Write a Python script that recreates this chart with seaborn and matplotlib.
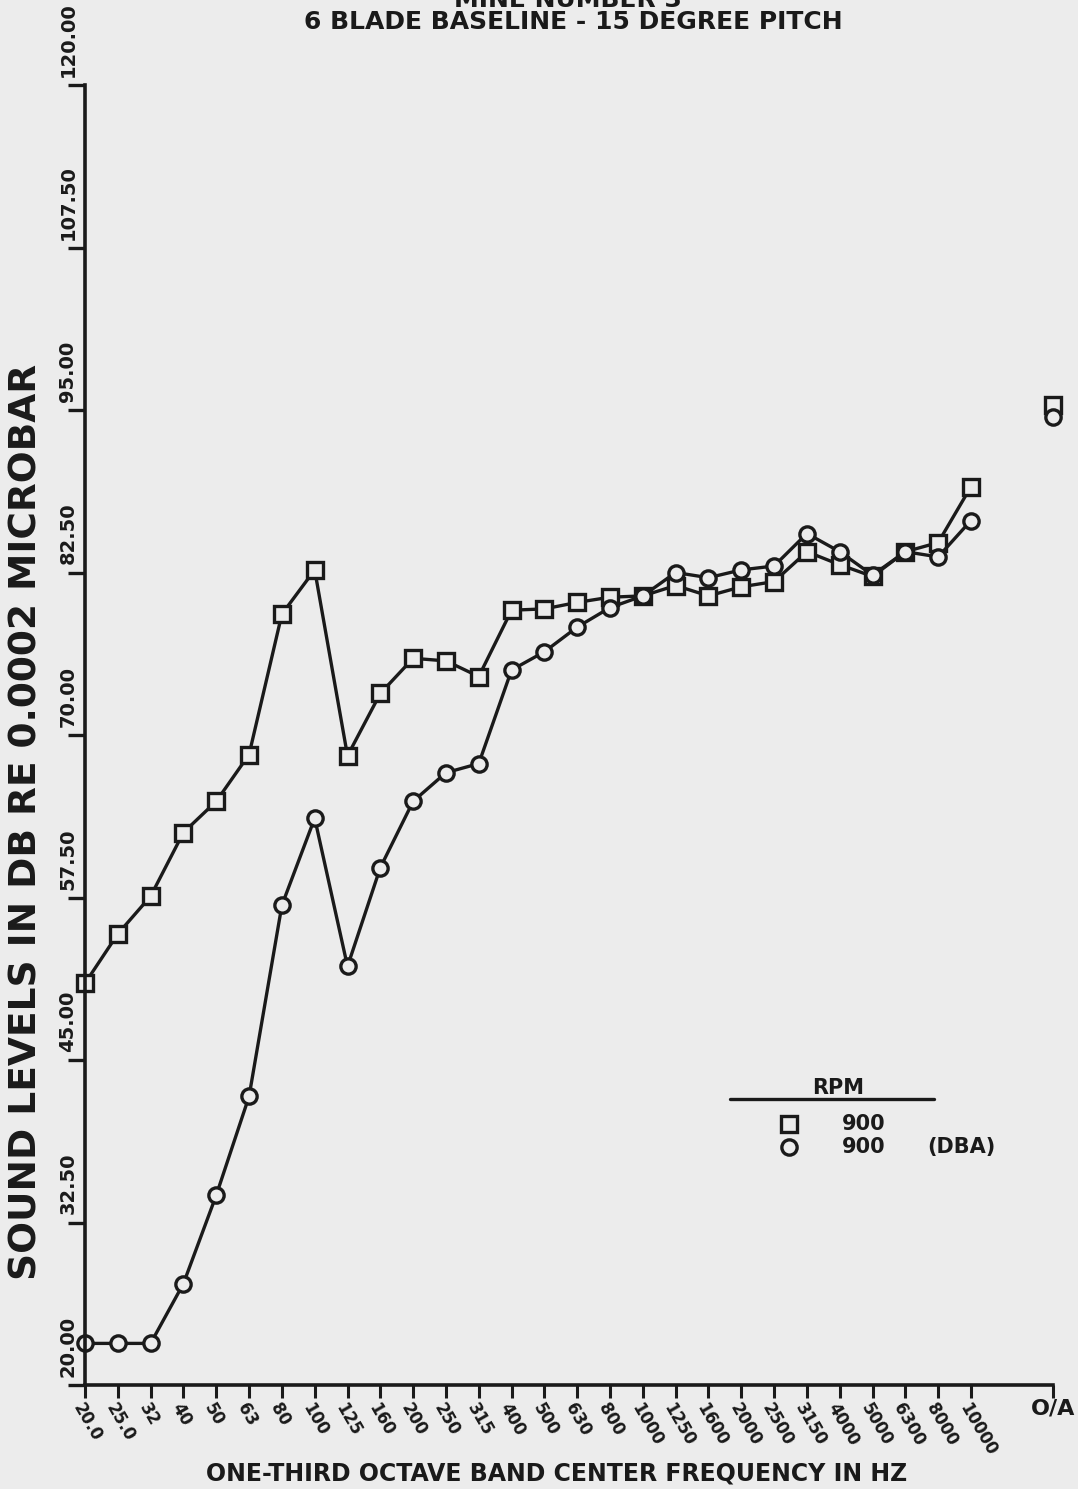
"""
Recreation of the one-third octave band plot: 6 blade baseline, 15 degree pitch.
"""
import numpy as np
import pandas as pd
import matplotlib
matplotlib.use("Agg")
import matplotlib.pyplot as plt
import seaborn as sns
from matplotlib.lines import Line2D

sns.set_theme(style="white")
plt.rcParams['font.family'] = ['DejaVu Sans']
plt.rcParams['font.weight'] = 'bold'
plt.rcParams['text.color'] = 'k'
plt.rcParams['xtick.color'] = 'k'
plt.rcParams['ytick.color'] = 'k'
plt.rcParams['axes.labelcolor'] = 'k'

BG = "#ececec"
W, H = 1078, 1489

# s0, data
bands = ["20.0", "25.0", "32", "40", "50", "63", "80", "100", "125", "160",
         "200", "250", "315", "400", "500", "630", "800", "1000", "1250", "1600",
         "2000", "2500", "3150", "4000", "5000", "6300", "8000", "10000"]
rpm900 = [50.9, 54.7, 57.6, 62.5, 64.9, 68.5, 79.3, 82.7, 68.4, 73.2,
          75.9, 75.7, 74.5, 79.6, 79.7, 80.2, 80.6, 80.7, 81.5, 80.7,
          81.4, 81.8, 84.1, 83.1, 82.2, 84.1, 84.8, 89.1]
rpm900_dba = [23.2, 23.2, 23.2, 27.8, 34.6, 42.2, 56.9, 63.6, 52.2, 59.8,
              64.9, 67.1, 67.8, 75.0, 76.4, 78.3, 79.8, 80.7, 82.5, 82.1,
              82.7, 83.0, 85.5, 84.1, 82.3, 84.1, 83.7, 86.5]
oa_900 = 95.4
oa_900_dba = 94.5
series_names = ["900", "900 (DBA)"]

df = pd.DataFrame({
    "band": np.tile(np.arange(len(bands)), 2),
    "level": rpm900 + rpm900_dba,
    "series": np.repeat(series_names, len(bands)),
})

OA_X = 29.5
MK = dict(ms=11, mew=2.4, mfc=BG, mec="k", ls="none")

fig = plt.figure(figsize=(W / 100, H / 100), dpi=100, facecolor=BG)
ax = fig.add_axes([85 / W, 1 - 1385 / H, (1053 - 85) / W, 1300 / H])
ax.set_facecolor(BG)

sns.lineplot(data=df, x="band", y="level", style="series",
             markers={"900": "s", "900 (DBA)": "o"}, dashes=False,
             color="k", linewidth=2.4, markersize=11, markeredgewidth=2.4,
             markerfacecolor=BG, markeredgecolor="k", legend=False,
             clip_on=False, ax=ax)

# overall levels, plotted outside the band range
ax.plot([OA_X], [oa_900], marker="s", clip_on=False, **MK)
ax.plot([OA_X], [oa_900_dba], marker="o", clip_on=False, **MK)

ax.set_xlim(0, OA_X)
ax.set_ylim(20, 120)
yt = np.arange(20, 120.1, 12.5)
ax.set_yticks(yt)
ax.set_yticklabels([])
# y labels sit just above their ticks, next to the axis line
for v in yt:
    ax.annotate(f"{v:.2f}", xy=(0, v), xycoords=("axes fraction", "data"),
                xytext=(-17, 8), textcoords="offset pixels", rotation=90,
                ha="center", va="bottom", fontsize=14, fontweight="bold",
                annotation_clip=False)
ax.set_xticks(list(range(len(bands))) + [OA_X])
ax.set_xticklabels(bands + [""], rotation=-60, ha="left", va="top",
                   rotation_mode="anchor", fontsize=12, fontweight="bold")
ax.tick_params(axis="y", direction="out", length=12, width=2.4,
               colors="k", left=True)
ax.tick_params(axis="x", direction="out", length=9, width=2.2, pad=2,
               colors="k", bottom=True)
for s in ["top", "right"]:
    ax.spines[s].set_visible(False)
for s in ["left", "bottom"]:
    ax.spines[s].set_linewidth(2.6)
    ax.spines[s].set_color("k")
ax.grid(False)
ax.set_xlabel("")
ax.set_ylabel("")

# f0, texts
fig.text(27 / W, 1 - 822 / H, "SOUND LEVELS IN DB RE 0.0002 MICROBAR",
         rotation=90, ha="center", va="center", fontsize=27, fontweight="bold")
fig.text(557 / W, 1 - 1473 / H, "ONE-THIRD OCTAVE BAND CENTER FREQUENCY IN HZ",
         ha="center", va="center", fontsize=17, fontweight="bold")
fig.text(573 / W, 1 - 29 / H, "6 BLADE BASELINE - 15 DEGREE PITCH",
         ha="center", va="baseline", fontsize=18, fontweight="bold")
fig.text(568 / W, 1 - 7 / H, "MINE NUMBER 3",
         ha="center", va="baseline", fontsize=18, fontweight="bold")
fig.text(1053 / W, 1 - 1409 / H, "O/A", ha="center", va="center",
         fontsize=16, fontweight="bold")

# f1, legend block
fig.add_artist(Line2D([730 / W, 934 / W], [1 - 1099 / H, 1 - 1099 / H],
                      color="k", lw=2.4, transform=fig.transFigure))
fig.text(838 / W, 1 - 1098 / H, "RPM", ha="center", va="bottom",
         fontsize=15, fontweight="bold")
fig.add_artist(Line2D([789 / W], [1 - 1124 / H], marker="s",
                      transform=fig.transFigure, **MK))
fig.add_artist(Line2D([789 / W], [1 - 1147 / H], marker="o",
                      transform=fig.transFigure, **MK))
fig.text(842 / W, 1 - 1124 / H, "900", ha="left", va="center",
         fontsize=15, fontweight="bold")
fig.text(842 / W, 1 - 1147 / H, "900", ha="left", va="center",
         fontsize=15, fontweight="bold")
fig.text(927 / W, 1 - 1147 / H, "(DBA)", ha="left", va="center",
         fontsize=15, fontweight="bold")

fig.savefig("out.png", dpi=100, facecolor=BG)
